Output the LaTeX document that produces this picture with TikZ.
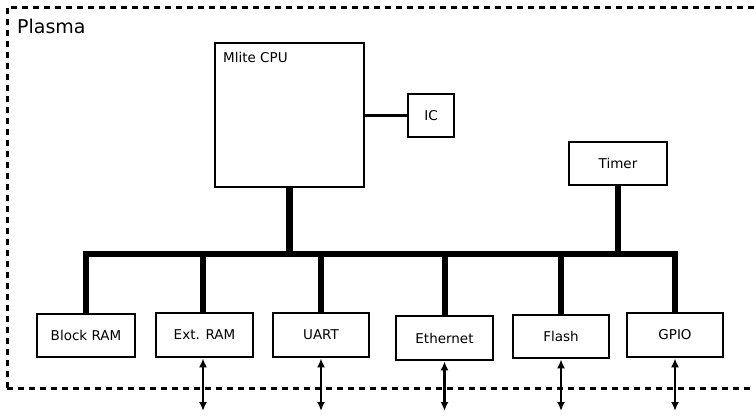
\documentclass[tikz,border=0pt]{standalone}
\usepackage{fontspec}
\setmainfont{DejaVu Sans}
\usetikzlibrary{arrows.meta}
\begin{document}
\begin{tikzpicture}[x=1pt,y=-1pt,
  blk/.style={draw=black, line width=2.8pt, fill=white, inner sep=0pt, font=\fontsize{13.5}{16}\selectfont, text=black},
  busline/.style={line width=6pt, line join=miter, line cap=butt},
  io/.style={line width=2.3pt, {Latex[length=9pt,width=8pt]}-{Latex[length=9pt,width=8pt]}},
  frame/.style={line width=3pt, dash pattern=on 6pt off 5pt}
]
\useasboundingbox (0,0) rectangle (754,416);
\begin{scope}
\clip (0,0) rectangle (754,416);
\draw[frame] (7,388) -- (7,7) -- (770,7);
\draw[frame] (7,388) -- (770,388);
\end{scope}
\node[anchor=base west, font=\fontsize{19}{22}\selectfont, inner sep=0pt] (title) at (17,33) {Plasma};

\node[blk, minimum width=149pt, minimum height=144pt] (cpu) at (289.5,115) {};
\node[anchor=base west, inner sep=0pt, font=\fontsize{13.5}{16}\selectfont] (cpulbl) at (223,62) {Mlite CPU};
\node[blk, line width=1.8pt, minimum width=46pt, minimum height=43pt] (ic) at (431,115.5) {IC};
\node[blk, minimum width=98pt, minimum height=43pt] (timer) at (618,163.5) {Timer};

\node[blk, minimum width=98pt, minimum height=43pt] (bram) at (86,335.5) {Block RAM};
\node[blk, minimum width=97pt, minimum height=44pt] (eram) at (204.5,335) {Ext. RAM};
\node[blk, minimum width=96pt, minimum height=44pt] (uart) at (321,335) {UART};
\node[blk, minimum width=97pt, minimum height=44pt] (eth) at (444.5,338) {Ethernet};
\node[blk, minimum width=96pt, minimum height=43pt] (flash) at (561,336.5) {Flash};
\node[blk, minimum width=96pt, minimum height=44pt] (gpio) at (675,335) {GPIO};

\coordinate (busy) at (0,254);
\coordinate (ioy) at (0,411);

\draw[line width=2.2pt] (cpu.east |- ic.west) -- (ic.west);

\draw[busline] (bram.north) -- (bram.north |- busy) -- (gpio.north |- busy) -- (gpio.north);
\draw[line width=6.5pt] (cpu.south) -- (cpu.south |- busy);
\draw[busline] (timer.south) -- (timer.south |- busy);
\draw[busline] ([xshift=-1.5pt]eram.north) -- ([xshift=-1.5pt]eram.north |- busy);
\draw[busline] (uart.north) -- (uart.north |- busy);
\draw[busline] (eth.north) -- (eth.north |- busy);
\draw[busline] (flash.north) -- (flash.north |- busy);

\draw[io] ([xshift=-1.5pt]eram.south) -- ([xshift=-1.5pt]eram.south |- ioy);
\draw[io] (uart.south) -- (uart.south |- ioy);
\draw[io] (eth.south) -- (eth.south |- ioy);
\draw[io] (flash.south) -- (flash.south |- ioy);
\draw[io] (gpio.south) -- (gpio.south |- ioy);
\end{tikzpicture}
\end{document}
